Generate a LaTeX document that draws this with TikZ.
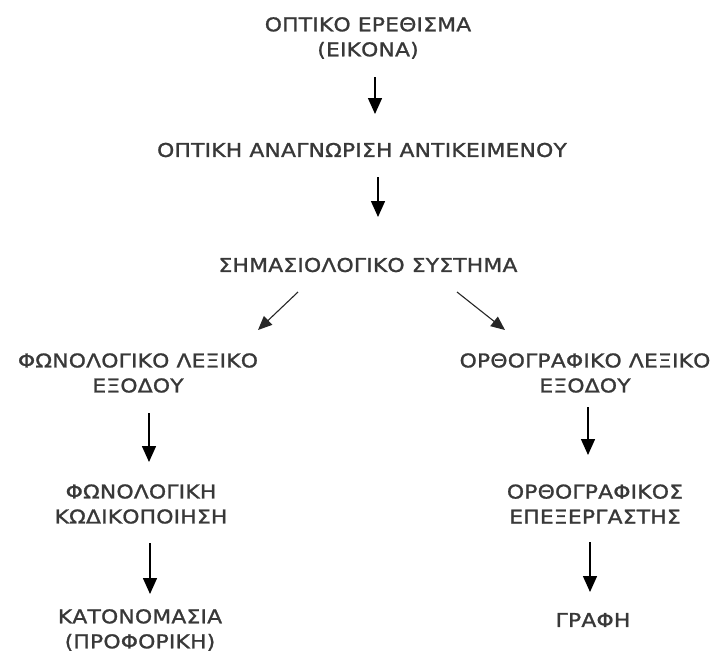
\documentclass[tikz,border=0pt]{standalone}
\usepackage{fontspec}
\setmainfont{DejaVu Sans}
\newfontfamily\stagefont{DejaVu Sans}[LetterSpace=1, FakeStretch=1.15, FakeBold=1.2]
\usetikzlibrary{shapes,arrows,arrows.meta,positioning}

\begin{document}
\begin{tikzpicture}[x=1pt, y=-1pt, auto,
    stage/.style={align=center, text=black!78, font=\stagefont\fontsize{19}{25}\selectfont, inner sep=0pt},
    line/.style={draw, -{Triangle[width=14pt, length=16pt]}, line width=1.5pt},
    diag/.style={draw, -{Triangle[width=12pt, length=14pt]}, line width=1.1pt, black!85}]
    \useasboundingbox (0,0) rectangle (714,654);
    
    \node [stage] (image) at (368,38) {ΟΠΤΙΚΟ ΕΡΕΘΙΣΜΑ\\(ΕΙΚΟΝΑ)};
    \node [stage] (object) at (362,150) {ΟΠΤΙΚΗ ΑΝΑΓΝΩΡΙΣΗ ΑΝΤΙΚΕΙΜΕΝΟΥ};
    \node [stage] (semantic) at (368,265) {ΣΗΜΑΣΙΟΛΟΓΙΚΟ ΣΥΣΤΗΜΑ};
    
    \node [stage] (phonlex) at (138,373) {ΦΩΝΟΛΟΓΙΚΟ ΛΕΞΙΚΟ\\ΕΞΟΔΟΥ};
    \node [stage] (phoncode) at (141,504) {ΦΩΝΟΛΟΓΙΚΗ\\ΚΩΔΙΚΟΠΟΙΗΣΗ};
    \node [stage] (naming) at (140,630) {ΚΑΤΟΝΟΜΑΣΙΑ\\(ΠΡΟΦΟΡΙΚΗ)};
    
    \node [stage] (ortholex) at (585,373) {ΟΡΘΟΓΡΑΦΙΚΟ ΛΕΞΙΚΟ\\ΕΞΟΔΟΥ};
    \node [stage] (orthoproc) at (595,504) {ΟΡΘΟΓΡΑΦΙΚΟΣ\\ΕΠΕΞΕΡΓΑΣΤΗΣ};
    \node [stage] (writing) at (593,620) {ΓΡΑΦΗ};
    
    \path [line, shorten <=39pt, shorten >=36pt] ([xshift=7pt]image.center) -- ([xshift=7pt]image.center |- object.center);
    \path [line, shorten <=27pt, shorten >=48pt] ([xshift=16pt]object.center) -- ([xshift=16pt]object.center |- semantic.center);
    \path [diag] ([shift={(-70,27)}]semantic.center) -- ([shift={(120,-43)}]phonlex.center);
    \path [diag] ([shift={(89,27)}]semantic.center) -- ([shift={(-80,-43)}]ortholex.center);
    
    \path [line, shorten <=40pt, shorten >=42pt] ([xshift=11pt]phonlex.center) -- ([xshift=11pt]phonlex.center |- phoncode.center);
    \path [line, shorten <=39pt, shorten >=36pt] ([xshift=9pt]phoncode.center) -- ([xshift=9pt]phoncode.center |- naming.center);
    
    \path [line, shorten <=34pt, shorten >=49pt] ([xshift=3pt]ortholex.center) -- ([xshift=3pt]ortholex.center |- orthoproc.center);
    \path [line, shorten <=38pt, shorten >=28pt] ([xshift=-5pt]orthoproc.center) -- ([xshift=-5pt]orthoproc.center |- writing.center);
\end{tikzpicture}
\end{document}
